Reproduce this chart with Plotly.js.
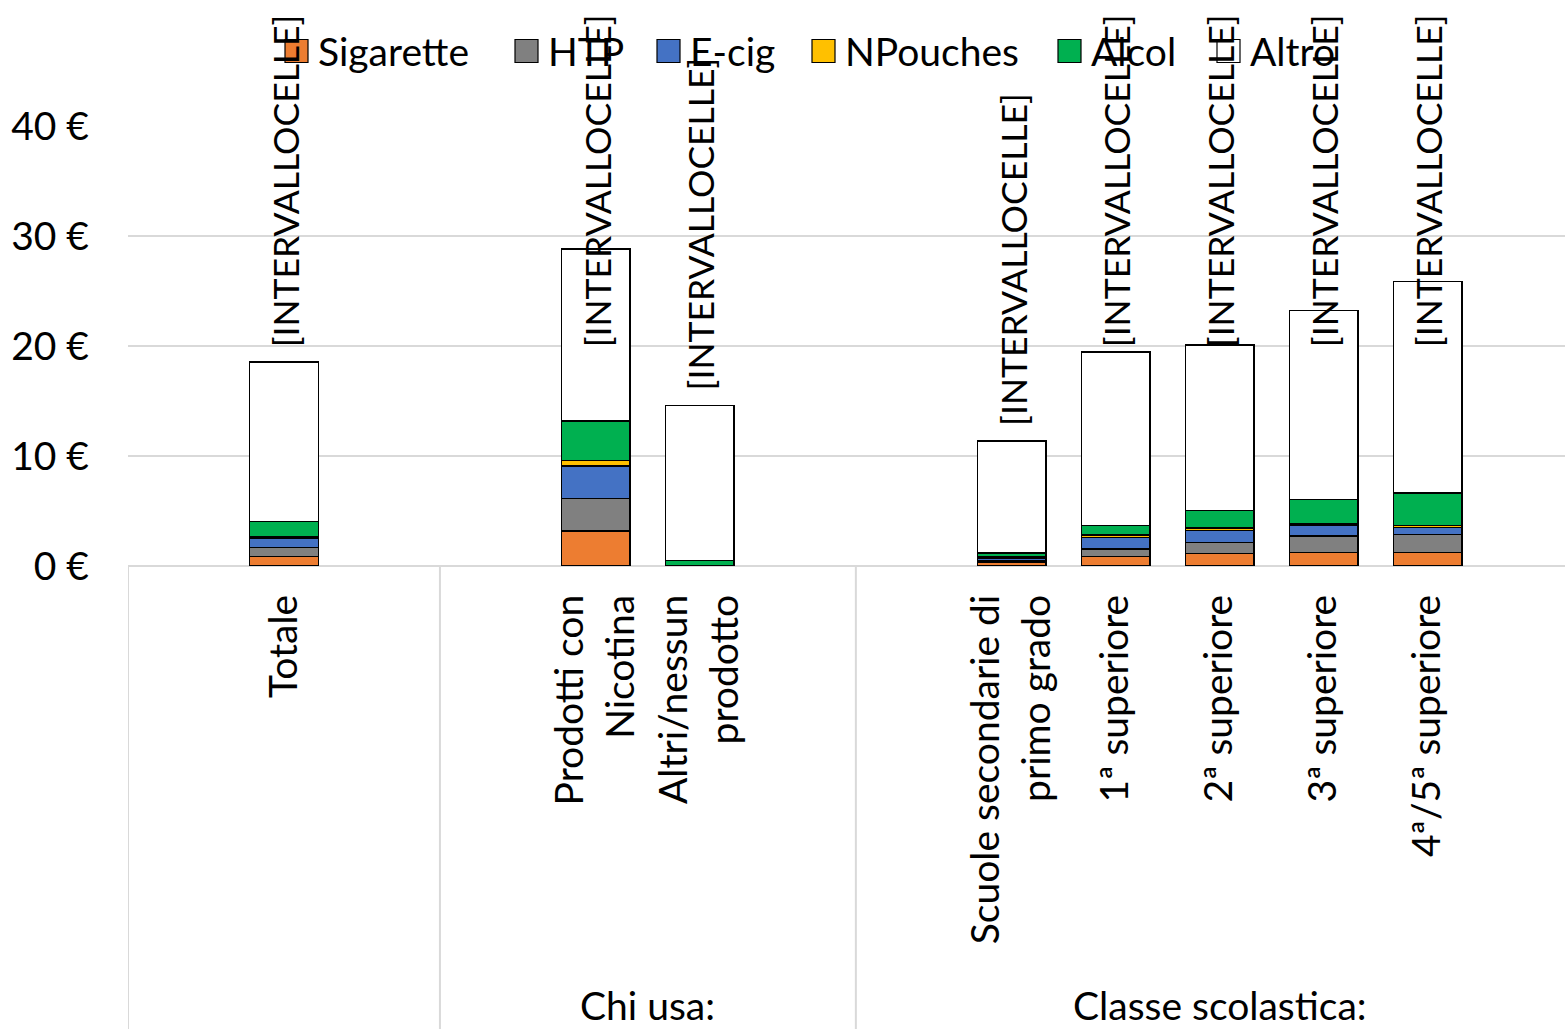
<!DOCTYPE html>
<html>
<head>
<meta charset="utf-8">
<script src="https://cdn.plot.ly/plotly-3.0.1.min.js"></script>
<style>html,body{margin:0;padding:0;background:#fff;}#chart{width:1565px;height:1029px;}</style>
</head>
<body>
<div id="chart"></div>
<script>
// Category slots (including empty spacer slots) and their tick labels
const categories = ['g0','Totale','g1','g2','Prodotti con Nicotina','Altri/nessun prodotto','g3','g4','Scuole secondarie di primo grado','1ª superiore','2ª superiore','3ª superiore','4ª/5ª superiore','g5'];
const tickLabels = ['','Totale','','','Prodotti con<br>Nicotina','Altri/nessun<br>prodotto','','','Scuole secondarie di<br>primo grado','1ª superiore','2ª superiore','3ª superiore','4ª/5ª superiore',''];
const barCategories = ['Totale','Prodotti con Nicotina','Altri/nessun prodotto','Scuole secondarie di primo grado','1ª superiore','2ª superiore','3ª superiore','4ª/5ª superiore'];

const sigarette = [0.85, 3.2, 0.03, 0.35, 0.85, 1.15, 1.25, 1.25];
const htp       = [0.85, 2.95, 0.0, 0.1, 0.7, 1.0, 1.5, 1.6];
const ecig      = [0.8, 2.95, 0.0, 0.3, 1.05, 1.1, 0.95, 0.65];
const npouches  = [0.15, 0.5, 0.0, 0.05, 0.2, 0.2, 0.1, 0.2];
const alcol     = [1.4, 3.6, 0.45, 0.4, 0.9, 1.6, 2.25, 2.95];
const altro     = [14.5, 15.6, 14.1, 10.15, 15.75, 15.05, 17.2, 19.2];

const seriesNames = ['Sigarette','HTP','E-cig','NPouches','Alcol','Altro'];
const seriesValues = [sigarette, htp, ecig, npouches, alcol, altro];
const seriesColors = ['#ED7D31','#808080','#4472C4','#FFC000','#00B050','#FFFFFF'];

const groupLabels = ['Chi usa:', 'Classe scolastica:'];
const valueLabel = '[INTERVALLOCELLE]';

const FONT = 'Lato, "Liberation Sans", sans-serif';
const FS = 39;
const LABEL_FS = 35.5;

// plot-area geometry (pixels) used to place the hand-drawn legend
const ML = 128, MT = 126, PW = 1565 - 128, PH = 566 - 126;
const legendBoxLeft = [285, 515, 657, 812, 1058, 1217];
const legendCenterY = 51, legendBox = 23;
const px2x = p => (p - ML) / PW;
const py2y = p => (MT + PH - p) / PH;

const traces = seriesNames.map((n, i) => ({
  type: 'bar',
  name: n,
  x: barCategories,
  y: seriesValues[i],
  marker: {color: seriesColors[i], line: {color: '#000', width: 1.5}},
  hoverinfo: 'x+y+name',
  showlegend: false
}));

const totals = barCategories.map((c, j) => seriesValues.reduce((s, arr) => s + arr[j], 0));

const annotations = barCategories.map((c, j) => ({
  x: c, xref: 'x', yref: 'y',
  y: Math.min(totals[j] + 1.6, 20.1),
  yanchor: 'bottom', xanchor: 'center',
  xshift: 1, yshift: -4,
  text: valueLabel, textangle: -90, showarrow: false,
  font: {family: FONT, size: LABEL_FS, color: '#000'}
}));
annotations.push({x: 4.5, xref: 'x', yref: 'paper', y: -0.998, yanchor: 'middle', xanchor: 'center',
  text: groupLabels[0], showarrow: false, font: {family: FONT, size: FS, color: '#000'}});
annotations.push({x: 10, xref: 'x', yref: 'paper', y: -0.998, yanchor: 'middle', xanchor: 'center',
  text: groupLabels[1], showarrow: false, font: {family: FONT, size: FS, color: '#000'}});

const shapes = [-0.5, 2.5, 6.5].map(xv => ({
  type: 'line', xref: 'x', yref: 'paper', x0: xv, x1: xv, y0: 0, y1: -1.06,
  line: {color: '#d9d9d9', width: 2}
}));

// legend: boxes + names
seriesNames.forEach((n, i) => {
  const l = legendBoxLeft[i];
  shapes.push({type: 'rect', xref: 'paper', yref: 'paper',
    x0: px2x(l), x1: px2x(l + legendBox),
    y0: py2y(legendCenterY + legendBox / 2), y1: py2y(legendCenterY - legendBox / 2),
    fillcolor: seriesColors[i], line: {color: '#000', width: 1.2}});
  annotations.push({xref: 'paper', yref: 'paper', x: px2x(l + legendBox + 8), y: py2y(legendCenterY),
    xanchor: 'left', yanchor: 'middle', text: n, showarrow: false,
    font: {family: FONT, size: FS, color: '#000'}});
});

const layout = {
  width: 1565, height: 1029,
  margin: {l: ML, r: 0, t: MT, b: 1029 - 566},
  paper_bgcolor: '#fff', plot_bgcolor: '#fff',
  font: {family: FONT, size: FS, color: '#000'},
  barmode: 'stack',
  bargap: 0.34,
  showlegend: false,
  xaxis: {
    type: 'category', categoryorder: 'array', categoryarray: categories,
    tickvals: categories, ticktext: tickLabels,
    range: [-0.5, 13.32], tickangle: -90, showgrid: false, zeroline: false,
    showline: false, ticks: '', ticklabelstandoff: 20, automargin: false,
    tickfont: {family: FONT, size: FS, color: '#000'}
  },
  yaxis: {
    range: [0, 40], dtick: 10, ticksuffix: ' €', showgrid: true, gridcolor: '#d9d9d9', gridwidth: 2,
    zeroline: true, zerolinecolor: '#d9d9d9', zerolinewidth: 2, showline: false, ticks: '',
    ticklabelstandoff: 38, automargin: false, fixedrange: true,
    tickfont: {family: FONT, size: FS, color: '#000'}
  },
  annotations: annotations,
  shapes: shapes
};

Plotly.newPlot('chart', traces, layout, {displayModeBar: false, staticPlot: true});
</script>
</body>
</html>
